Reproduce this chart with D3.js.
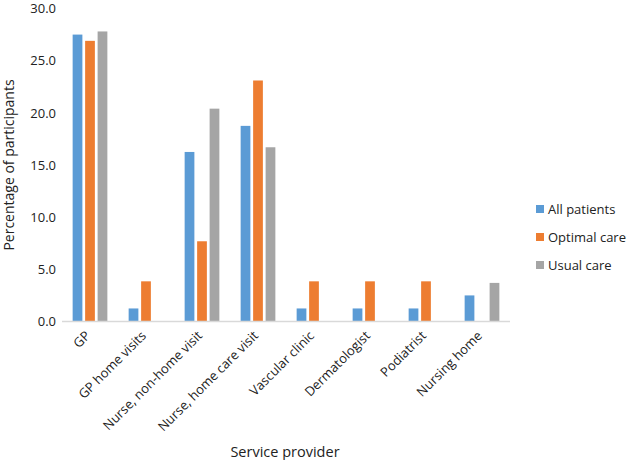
<!DOCTYPE html>
<html>
<head>
<meta charset="utf-8">
<script src="https://cdn.jsdelivr.net/npm/d3@7"></script>
<style>
  body { margin: 0; background: #fff; }
  svg { font-family: "Open Sans", sans-serif; }
</style>
</head>
<body>
<svg id="chart" width="626" height="460"></svg>
<script>
const categories = ["GP", "GP home visits", "Nurse, non-home visit", "Nurse, home care visit",
  "Vascular clinic", "Dermatologist", "Podiatrist", "Nursing home"];
const seriesNames = ["All patients", "Optimal care", "Usual care"];
const allPatients = [27.5, 1.25, 16.25, 18.75, 1.25, 1.25, 1.25, 2.5];
const optimalCare = [26.9, 3.85, 7.69, 23.1, 3.85, 3.85, 3.85, 0];
const usualCare = [27.8, 0, 20.4, 16.7, 0, 0, 0, 3.7];
const yTicks = [0, 5, 10, 15, 20, 25, 30];
const colors = ["#5b9bd5", "#ed7d31", "#a5a5a5"];

const series = [allPatients, optimalCare, usualCare];

const svg = d3.select("#chart");
const mLeft = 62, mRight = 510, mTop = 8.5, mBottom = 321.5;

const x = d3.scaleBand().domain(categories).range([mLeft, mRight]).paddingInner(0.38).paddingOuter(0.19);
const xs = d3.scaleBand().domain(seriesNames).range([0, x.bandwidth()]).paddingInner(0.22);
const y = d3.scaleLinear().domain([0, 30]).range([mBottom, mTop]);

// bars
series.forEach((vals, si) => {
  svg.append("g")
    .selectAll("rect")
    .data(vals)
    .enter().append("rect")
      .attr("x", (d, i) => x(categories[i]) + xs(seriesNames[si]))
      .attr("y", d => y(d))
      .attr("width", xs.bandwidth())
      .attr("height", d => mBottom - y(d))
      .attr("fill", colors[si]);
});

// y axis (labels only)
const yAxis = svg.append("g")
  .attr("transform", `translate(${mLeft},0)`)
  .call(d3.axisLeft(y).tickValues(yTicks).tickFormat(d3.format(".1f")).tickSize(0).tickPadding(6));
yAxis.select(".domain").remove();
yAxis.selectAll("text").attr("font-size", 13).attr("fill", "#222").attr("font-family", "Open Sans");

// x axis
const xAxis = svg.append("g")
  .attr("transform", `translate(0,${mBottom})`)
  .call(d3.axisBottom(x).tickSize(0).tickPadding(0));
xAxis.select(".domain").attr("stroke", "#d9d9d9").attr("stroke-width", 1.3)
  .attr("d", `M${mLeft},0H${mRight}`);
xAxis.selectAll("text")
  .attr("font-size", 13)
  .attr("fill", "#222")
  .attr("font-family", "Open Sans")
  .attr("text-anchor", "end")
  .attr("dy", null)
  .attr("transform", "translate(1,15) rotate(-45)");

// axis titles
svg.append("text")
  .attr("transform", `translate(14,${(mTop + mBottom) / 2}) rotate(-90)`)
  .attr("text-anchor", "middle")
  .attr("font-size", 14)
  .attr("fill", "#222")
  .text("Percentage of participants");

svg.append("text")
  .attr("x", 285).attr("y", 457)
  .attr("text-anchor", "middle")
  .attr("font-size", 14.5)
  .attr("fill", "#222")
  .text("Service provider");

// legend
const legend = svg.append("g");
seriesNames.forEach((name, i) => {
  const ly = 209 + i * 28;
  legend.append("rect")
    .attr("x", 536).attr("y", ly - 4).attr("width", 8).attr("height", 8)
    .attr("fill", colors[i]);
  legend.append("text")
    .attr("x", 548).attr("y", ly).attr("dy", "0.35em")
    .attr("font-size", 13)
    .attr("fill", "#222")
    .text(name);
});
</script>
</body>
</html>
